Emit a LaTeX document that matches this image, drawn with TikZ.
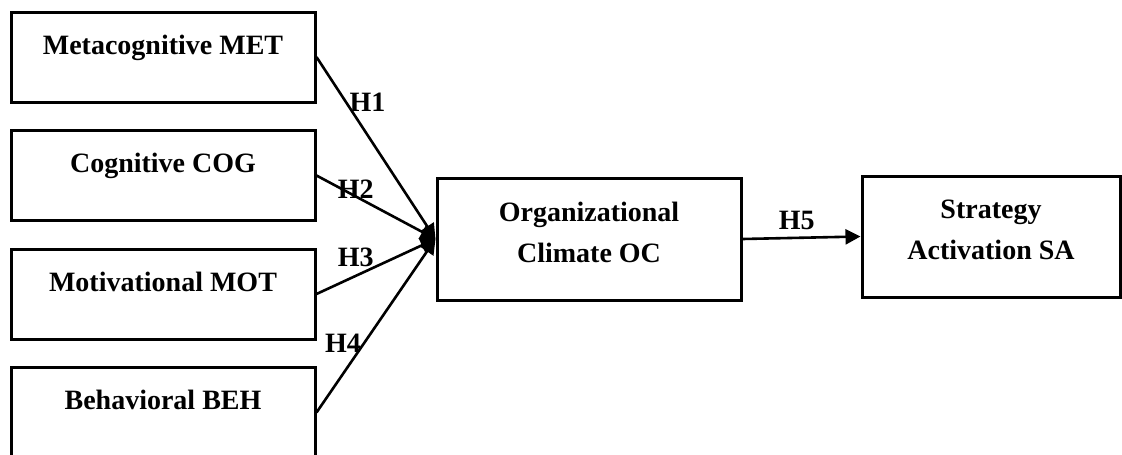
\documentclass[tikz,border=0pt]{standalone}
\usepackage{fontspec}
\setmainfont{Liberation Serif}
\usetikzlibrary{positioning, arrows.meta}

\begin{document}
\begin{tikzpicture}[x=1pt, y=-1pt, line width=2.6pt]
    % settings for the whole model
    \tikzset{
      ->,
      >={Triangle[length=15pt, width=15pt]},
      node distance=118.5pt,
      every node/.style={font=\fontsize{28pt}{41pt}\selectfont\bfseries},
      factor/.style={draw, line width=3pt, minimum width=304pt, minimum height=90pt,
                     text height=19pt, text depth=25pt, inner sep=0pt},
      construct/.style={draw, line width=3pt, align=center, inner sep=0pt,
                        text height=60pt, text depth=14pt},
      hyp/.style={inner sep=2pt},
    }
    \useasboundingbox (0,0) rectangle (1122,455);

    % factors
    \node[factor] (met) at (163,57) {Metacognitive MET};
    \node[factor, below of=met] (cog) {Cognitive COG};
    \node[factor, below of=cog] (mot) {Motivational MOT};
    \node[factor, below of=mot] (beh) {Behavioral BEH};

    % climate and outcome
    \node[construct, minimum width=304pt, minimum height=122pt] at (589,239) (oc) {Organizational\\Climate OC};
    \node[construct, minimum width=258pt, minimum height=121pt] at (991,236.5) (sa) {Strategy\\Activation SA};

    % hypotheses
    \path (met.east) edge node[hyp, pos=0.25, right] {H1} (oc.west)
          (cog.east) edge node[hyp, pos=0.33, yshift=7pt] {H2} (oc.west)
          (mot.east) edge node[hyp, pos=0.33, above=6pt] {H3} (oc.west)
          (beh.east) edge node[hyp, pos=0.4, left] {H4} (oc.west)
          (oc.east) edge node[hyp, pos=0.46, above=5pt] {H5} (sa.west);

\end{tikzpicture}
\end{document}
